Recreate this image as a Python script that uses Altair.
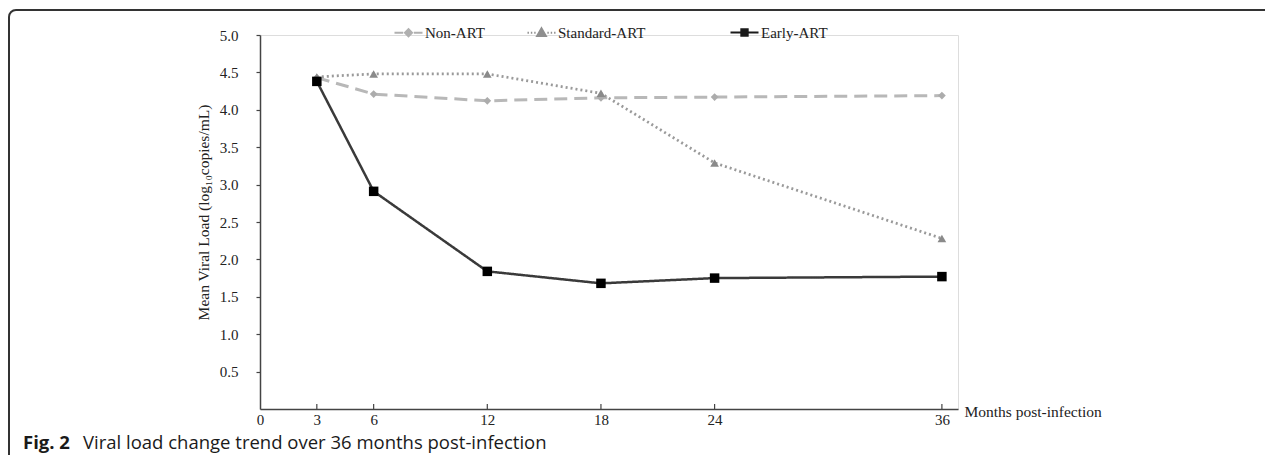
import altair as alt
import pandas as pd

# ---------------- data ----------------
months = [3, 6, 12, 18, 24, 36]
series_names = ["Non-ART", "Standard-ART", "Early-ART"]
non_art = [4.43, 4.21, 4.12, 4.16, 4.17, 4.19]
standard_art = [4.44, 4.48, 4.48, 4.22, 3.29, 2.28]
early_art = [4.38, 2.91, 1.84, 1.68, 1.75, 1.77]

x_ticks = [0, 3, 6, 12, 18, 24, 36]
y_ticks = [0.5, 1.0, 1.5, 2.0, 2.5, 3.0, 3.5, 4.0, 4.5, 5.0]

x_title = "Months post-infection"
y_title = "Mean Viral Load (log\u2081\u2080copies/mL)"
caption_bold = "Fig. 2"
caption_text = "Viral load change trend over 36 months post-infection"

# ---------------- styles ----------------
line_colors = ["#b8b8b8", "#9a9a9a", "#3a3a3a"]
marker_colors = ["#acacac", "#8a8a8a", "#000000"]
legend_colors = ["#b0b0b0", "#8f8f8f", "#1a1a1a"]
marker_shapes = ["diamond", "triangle-up", "square"]
marker_sizes = [60, 90, 56]
dashes = [[13, 7], [2, 3], [1, 0]]
widths = [3, 2.5, 2.5]

SERIF = "Liberation Serif"
TXT = "#222222"
AX = "#444444"

W, H = 698, 374
PL, PT = 252, 27
TOTAL_W, TOTAL_H = 1263, 447

rows = []
for name, vals in zip(series_names, [non_art, standard_art, early_art]):
    for m, v in zip(months, vals):
        rows.append({"series": name, "month": m, "value": v})
df = pd.DataFrame(rows)

xscale = alt.Scale(domain=[0, 36.85], nice=False, zero=False)
yscale = alt.Scale(domain=[0, 5], nice=False)

x_axis = alt.Axis(
    values=x_ticks, ticks=False, labelPadding=3, domainColor=AX, domainWidth=1.5,
    labelFont=SERIF, labelFontSize=15, labelColor=TXT, labelFlush=False, labelOverlap=False,
    grid=False, title=x_title, titleX=704, titleY=2, titleAlign="left",
    titleBaseline="middle", titleAngle=0, titleFont=SERIF, titleFontSize=15.5,
    titleFontWeight="normal", titleColor=TXT,
)
y_axis = alt.Axis(
    values=y_ticks, format=".1f", tickSize=4, tickColor=AX, tickWidth=1.2,
    labelPadding=18, domainColor=AX, domainWidth=1.5, labelFont=SERIF,
    labelFontSize=15, labelColor=TXT, grid=False, title=y_title, titleX=-57,
    titleY=177, titleAngle=270, titleAlign="center", titleBaseline="middle",
    titleFont=SERIF, titleFontSize=15.5, titleFontWeight="normal", titleColor=TXT,
    labelOverlap=False,
)

base = alt.Chart(df)

lines = base.mark_line().encode(
    x=alt.X("month:Q", scale=xscale, axis=x_axis),
    y=alt.Y("value:Q", scale=yscale, axis=y_axis),
    stroke=alt.Stroke("series:N", scale=alt.Scale(domain=series_names, range=line_colors), legend=None),
    strokeDash=alt.StrokeDash("series:N", scale=alt.Scale(domain=series_names, range=dashes), legend=None),
    strokeWidth=alt.StrokeWidth("series:N", scale=alt.Scale(domain=series_names, range=widths), legend=None),
)

points = base.mark_point(filled=True, opacity=1).encode(
    x="month:Q",
    y="value:Q",
    fill=alt.Fill("series:N", scale=alt.Scale(domain=series_names, range=marker_colors), legend=None),
    shape=alt.Shape("series:N", scale=alt.Scale(domain=series_names, range=marker_shapes), legend=None),
    size=alt.Size("series:N", scale=alt.Scale(domain=series_names, range=marker_sizes), legend=None),
)

# legend-only layers: symbols are line segments + marker (paths in [-1, 1] units)
p_non = "M-1,0H-0.38M0.38,0H1M0,-0.24L0.24,0L0,0.24L-0.24,0Z"
p_std = ("M-1,0H-0.9M-0.76,0H-0.66M-0.52,0H-0.42"
         "M0.42,0H0.52M0.66,0H0.76M0.9,0H1"
         "M0,-0.3L0.3,0.22L-0.3,0.22Z")
p_early = "M-1,0H1M-0.22,-0.22H0.22V0.22H-0.22Z"
legend_paths = [p_non, p_std, p_early]


def mk_legend(values, lx):
    return alt.Legend(
        orient="none", legendX=lx, legendY=-18, direction="horizontal", title=None,
        values=values, symbolSize=784, symbolStrokeWidth=2.2, symbolOpacity=1,
        labelFont=SERIF, labelFontSize=15, labelColor=TXT, labelOffset=1,
        columnPadding=38, padding=0,
    )


def legend_layer(values, lx):
    return base.transform_filter("false").mark_point(filled=True, strokeWidth=2.2).encode(
        x="month:Q",
        y="value:Q",
        shape=alt.Shape("series:N", scale=alt.Scale(domain=series_names, range=legend_paths),
                        legend=mk_legend(values, lx)),
        fill=alt.Fill("series:N", scale=alt.Scale(domain=series_names, range=legend_colors),
                      legend=mk_legend(values, lx)),
        stroke=alt.Stroke("series:N", scale=alt.Scale(domain=series_names, range=legend_colors),
                          legend=mk_legend(values, lx)),
    )


leg_a = legend_layer(series_names[:2], 133)
leg_b = legend_layer(series_names[2:], 469)

tick_df = pd.DataFrame({"month": x_ticks[1:]})
inner_ticks = alt.Chart(tick_df).mark_rule(color=AX, strokeWidth=1.2).encode(
    x="month:Q", y=alt.value(H), y2=alt.value(H - 5)
)

# figure frame (top + left border with rounded corner)
one = alt.Data(values=[{"k": 1}])
FX, FY, R = -251, -25, 7
frame_top = alt.Chart(one).mark_rule(color="#333333", strokeWidth=2).encode(
    x=alt.value(FX + R), x2=alt.value(1005), y=alt.value(FY)
)
frame_left = alt.Chart(one).mark_rule(color="#333333", strokeWidth=2).encode(
    x=alt.value(FX), y=alt.value(FY + R), y2=alt.value(TOTAL_H - PT)
)
frame_corner = alt.Chart(one).mark_arc(
    radius=R + 1, radius2=R - 1, theta=4.7124, theta2=6.2832, color="#333333"
).encode(x=alt.value(FX + R), y=alt.value(FY + R))

cap1 = alt.Chart(one).mark_text(
    align="left", baseline="alphabetic", font="Open Sans", fontSize=18.5,
    fontWeight="bold", color="#1a1a1a"
).encode(x=alt.value(-237), y=alt.value(414), text=alt.value(caption_bold))
cap2 = alt.Chart(one).mark_text(
    align="left", baseline="alphabetic", font="Open Sans", fontSize=18.5,
    color="#1a1a1a"
).encode(x=alt.value(-177), y=alt.value(414), text=alt.value(caption_text))

chart = alt.layer(
    frame_top, frame_left, frame_corner, lines, points, leg_a, leg_b, inner_ticks, cap1, cap2
).resolve_scale(
    shape="independent", fill="independent", stroke="independent"
).properties(
    width=W, height=H,
    autosize=alt.AutoSizeParams(type="none"),
    padding={"left": PL, "top": PT, "right": TOTAL_W - PL - W, "bottom": TOTAL_H - PT - H},
).configure_view(stroke=None).configure(background="white")

chart.save("out.html", embed_options={"renderer": "svg", "actions": False})
